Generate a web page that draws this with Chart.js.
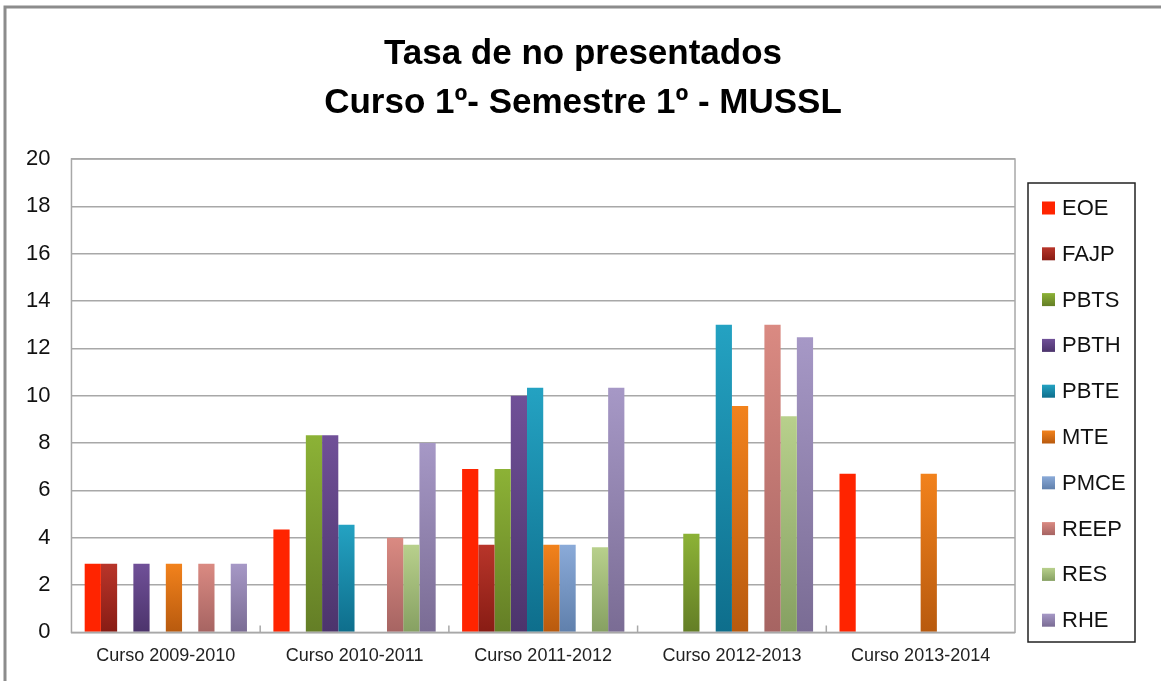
<!DOCTYPE html>
<html>
<head>
<meta charset="utf-8">
<script src="https://cdn.jsdelivr.net/npm/chart.js@4/dist/chart.umd.min.js"></script>
<style>
  html, body { margin: 0; padding: 0; background: #fff; }
  #wrap { width: 1161px; height: 681px; position: relative; }
</style>
</head>
<body>
<div id="wrap"><canvas id="tasaChart"></canvas></div>
<script>
const cursos = ["Curso 2009-2010", "Curso 2010-2011", "Curso 2011-2012", "Curso 2012-2013", "Curso 2013-2014"];

const eoe  = [2.9, 4.35, 6.9, null, 6.7];
const fajp = [2.9, null, 3.7, null, null];
const pbts = [null, 8.33, 6.9, 4.17, null];
const pbth = [2.9, 8.33, 10.0, null, null];
const pbte = [null, 4.55, 10.34, 13.0, null];
const mte  = [2.9, null, 3.7, 9.56, 6.7];
const pmce = [null, null, 3.7, null, null];
const reep = [2.9, 4.0, null, 13.0, null];
const res  = [null, 3.7, 3.6, 9.13, null];
const rhe  = [2.9, 8.0, 10.34, 12.47, null];

const yTicks = [0, 2, 4, 6, 8, 10, 12, 14, 16, 18, 20];

const FONT = "'Liberation Sans', Arial, sans-serif";

// each bar fades from a light top to a darker base
function shade(top, bottom) {
    return function (c) {
        const chart = c.chart;
        if (c.type !== "data" || !chart.chartArea || c.raw == null) return top;
        const y = chart.scales.y;
        const y0 = y.getPixelForValue(c.raw);
        const y1 = y.getPixelForValue(0);
        if (y1 - y0 < 1) return top;
        const g = chart.ctx.createLinearGradient(0, y0, 0, y1);
        g.addColorStop(0, top);
        g.addColorStop(1, bottom);
        return g;
    };
}

function serie(label, data, top, bottom) {
    return {
        label: label,
        data: data,
        backgroundColor: shade(top, bottom),
        borderWidth: 0,
        shadeTop: top,
        shadeBase: bottom,
    };
}

const datasets = [
    serie("EOE", eoe, "#ff2400", "#ff2400"),
    serie("FAJP", fajp, "#b8352a", "#881c14"),
    serie("PBTS", pbts, "#8cb236", "#647e26"),
    serie("PBTH", pbth, "#705098", "#4c346c"),
    serie("PBTE", pbte, "#24a2c2", "#0e6e8c"),
    serie("MTE", mte, "#f2821c", "#b85a0e"),
    serie("PMCE", pmce, "#8aaad8", "#6080ac"),
    serie("REEP", reep, "#da8a82", "#a66462"),
    serie("RES", res, "#b8d08c", "#86a062"),
    serie("RHE", rhe, "#a698c6", "#7a6c94"),
];

// page frame, plot box and inner category ticks
const decor = {
    id: "decor",
    beforeDraw(chart) {
        const ctx = chart.ctx;
        ctx.save();
        ctx.strokeStyle = "#8c8c8c";
        ctx.lineWidth = 3;
        ctx.beginPath();
        ctx.moveTo(5, chart.height);
        ctx.lineTo(5, 7);
        ctx.lineTo(chart.width, 7);
        ctx.stroke();
        ctx.restore();
    },
    afterDatasetsDraw(chart) {
        const ctx = chart.ctx;
        const a = chart.chartArea;
        const x = chart.scales.x;
        ctx.save();
        ctx.strokeStyle = "#a8a8a8";
        ctx.lineWidth = 1.5;
        ctx.strokeRect(a.left, a.top, a.right - a.left, a.bottom - a.top);
        ctx.beginPath();
        for (let i = 1; i < cursos.length; i++) {
            const px = (x.getPixelForValue(i - 1) + x.getPixelForValue(i)) / 2;
            ctx.moveTo(px, a.bottom);
            ctx.lineTo(px, a.bottom - 7);
        }
        ctx.stroke();
        ctx.restore();
    },
};

// boxed legend to the right of the plot
const boxedLegend = {
    id: "boxedLegend",
    afterDraw(chart) {
        const ctx = chart.ctx;
        const a = chart.chartArea;
        const left = a.right + 13;
        const top = a.top + 24;
        const step = 45.8;
        const sets = chart.data.datasets;
        ctx.save();
        ctx.strokeStyle = "#222";
        ctx.lineWidth = 1.5;
        ctx.strokeRect(left, top, 107, 459);
        ctx.font = "22px " + FONT;
        ctx.textBaseline = "middle";
        sets.forEach((ds, i) => {
            const cy = top + 25 + i * step;
            const g = ctx.createLinearGradient(0, cy - 6.5, 0, cy + 6.5);
            g.addColorStop(0, ds.shadeTop);
            g.addColorStop(1, ds.shadeBase);
            ctx.fillStyle = g;
            ctx.fillRect(left + 14, cy - 6.5, 13, 13);
            ctx.fillStyle = "#111";
            ctx.fillText(ds.label, left + 34, cy + 1);
        });
        ctx.restore();
    },
};

new Chart(document.getElementById("tasaChart"), {
    type: "bar",
    data: { labels: cursos, datasets: datasets },
    plugins: [decor, boxedLegend],
    options: {
        responsive: true,
        maintainAspectRatio: false,
        animation: false,
        layout: { padding: { left: 5, right: 0, bottom: 1, top: 0 } },
        datasets: {
            bar: { categoryPercentage: 0.86, barPercentage: 1.0 },
        },
        scales: {
            x: {
                grid: { display: false, drawTicks: false },
                border: { display: false },
                ticks: {
                    color: "#222",
                    font: { family: FONT, size: 18 },
                    padding: 13,
                    maxRotation: 0,
                },
            },
            y: {
                min: 0,
                max: 20,
                afterBuildTicks(scale) {
                    scale.ticks = yTicks.map((v) => ({ value: v }));
                },
                grid: { color: "#a8a8a8", lineWidth: 1.5, drawTicks: false },
                border: { display: false },
                ticks: {
                    color: "#111",
                    font: { family: FONT, size: 22 },
                    padding: 21,
                },
            },
            // empty right-hand strip that holds the legend box
            legendRoom: {
                position: "right",
                min: 0,
                max: 20,
                grid: { drawOnChartArea: false, drawTicks: false },
                border: { display: false },
                ticks: { display: false },
                afterFit(scale) {
                    scale.width = 146;
                },
            },
        },
        plugins: {
            title: {
                display: true,
                text: ["Tasa de no presentados", "Curso 1º- Semestre 1º - MUSSL"],
                color: "#000",
                font: { family: FONT, size: 35, weight: "bold", lineHeight: 1.4 },
                padding: { top: 30, bottom: 31 },
            },
            legend: { display: false },
            tooltip: { enabled: false },
        },
    },
});
</script>
</body>
</html>
